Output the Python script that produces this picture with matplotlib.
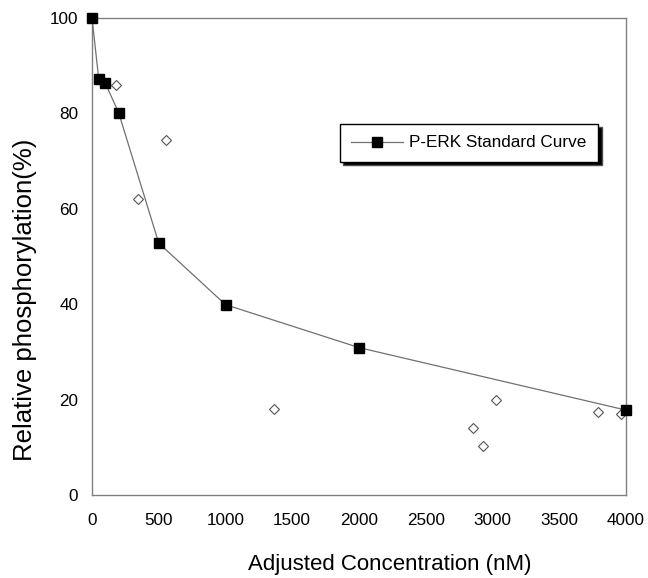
import matplotlib.pyplot as plt

plt.rcParams['font.family'] = ['Liberation Sans', 'DejaVu Sans']

# standard curve (nM, % phosphorylation)
std_conc = [0, 50, 100, 200, 500, 1000, 2000, 4000]
std_phos = [100, 87.3, 86.3, 80.1, 52.8, 39.9, 30.9, 17.8]

# samples read against the curve
smp_conc = [180, 554, 347, 1366, 2857, 2932, 3026, 3793, 3963]
smp_phos = [85.9, 74.4, 62.0, 18.0, 14.0, 10.3, 19.9, 17.5, 17.0]

fig = plt.figure(figsize=(6.48, 5.78), dpi=100)
ax = fig.add_axes([0.142, 0.1436, 0.824, 0.8253])

ax.plot(smp_conc, smp_phos, linestyle='none', marker='D', markersize=5.5,
        markerfacecolor='white', markeredgecolor='#555555', markeredgewidth=0.8,
        clip_on=False)
ax.plot(std_conc, std_phos, color='#707070', linewidth=0.9, marker='s',
        markersize=7.5, markerfacecolor='black', markeredgecolor='black',
        label='P-ERK Standard Curve', clip_on=False, zorder=3)

ax.set_xlim(0, 4000)
ax.set_ylim(0, 100)
ax.set_xticks(range(0, 4001, 500))
ax.set_yticks(range(0, 101, 20))
ax.tick_params(axis='both', length=0, labelsize=12.3)
ax.tick_params(axis='x', pad=13)
ax.tick_params(axis='y', pad=10)
for sp in ax.spines.values():
    sp.set_color('#808080')
    sp.set_linewidth(1.0)

ax.set_xlabel('Adjusted Concentration (nM)', fontsize=16)
ax.set_ylabel('Relative phosphorylation(%)', fontsize=18.5)
ax.xaxis.set_label_coords(0.558, -0.124)
ax.yaxis.set_label_coords(-0.103, 0.409)

leg = ax.legend(loc='upper left', bbox_to_anchor=(0.464, 0.778), fontsize=12.3,
                frameon=True, fancybox=False, handlelength=3.0, borderpad=0.68,
                handletextpad=0.4, borderaxespad=0,
                shadow={'ox': 2.4, 'oy': -2.4, 'facecolor': 'black', 'alpha': 1})
leg.get_frame().set_edgecolor('black')
leg.get_frame().set_linewidth(1.0)

fig.savefig('out.png', dpi=100)
